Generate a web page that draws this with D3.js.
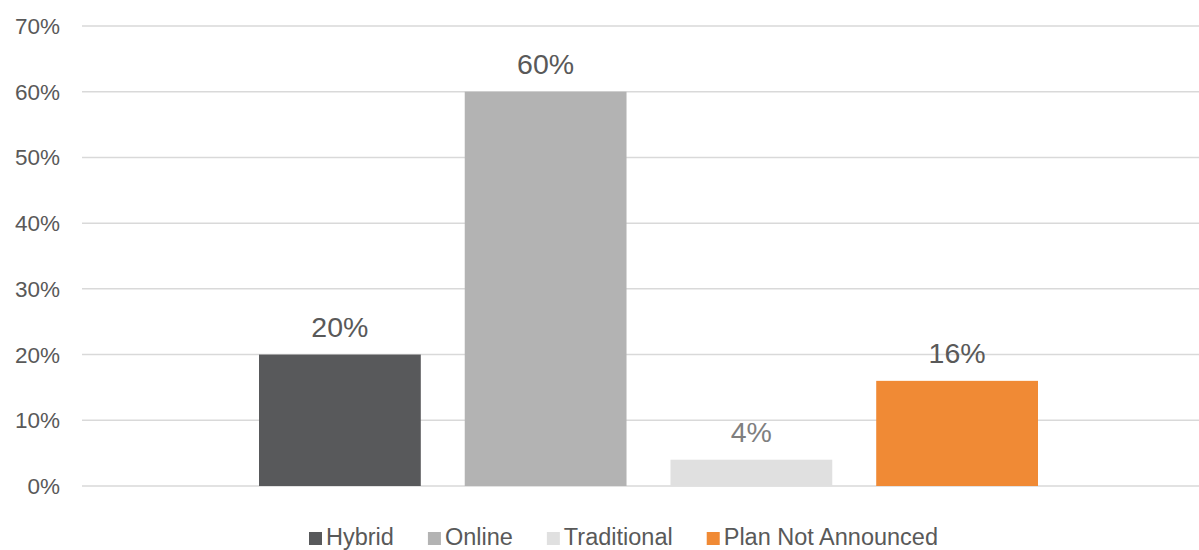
<!DOCTYPE html>
<html>
<head>
<meta charset="utf-8">
<script src="https://cdn.jsdelivr.net/npm/d3@7"></script>
<style>
  html, body { margin: 0; padding: 0; background: #fff; }
  svg { display: block; font-family: "Liberation Sans", Arial, sans-serif; }
</style>
</head>
<body>
<svg id="chart" width="1199" height="550"></svg>
<script>
const series = ["Hybrid", "Online", "Traditional", "Plan Not Announced"];
const values = [0.20, 0.60, 0.04, 0.16];
const colors = ["#58595b", "#b3b3b3", "#e0e0e0", "#f08a35"];
const labelColors = ["#595959", "#595959", "#7f7f7f", "#595959"];
const yTicks = [0, 0.1, 0.2, 0.3, 0.4, 0.5, 0.6, 0.7];

const svg = d3.select("#chart");
const plotLeft = 82, plotRight = 1215, plotTop = 26, plotBottom = 486;

const y = d3.scaleLinear().domain([0, 0.7]).range([plotBottom, plotTop]);
const x = d3.scaleBand().domain(series).range([259, 1038]).paddingInner(0.2136).paddingOuter(0);
const fmt = d3.format(".0%");

// gridlines
svg.append("g").selectAll("line").data(yTicks).join("line")
  .attr("x1", plotLeft).attr("x2", plotRight)
  .attr("y1", d => y(d)).attr("y2", d => y(d))
  .attr("stroke", "#d9d9d9").attr("stroke-width", 1.5);

// y labels
svg.append("g").selectAll("text").data(yTicks).join("text")
  .attr("x", 60).attr("y", d => y(d) + 8)
  .attr("text-anchor", "end")
  .attr("font-size", 22.5).attr("fill", "#595959")
  .text(d => fmt(d));

// bars
svg.append("g").selectAll("rect").data(series).join("rect")
  .attr("x", d => x(d)).attr("width", x.bandwidth())
  .attr("y", (d, i) => y(values[i]))
  .attr("height", (d, i) => plotBottom - y(values[i]))
  .attr("fill", (d, i) => colors[i]);

// data labels
svg.append("g").selectAll("text").data(series).join("text")
  .attr("x", d => x(d) + x.bandwidth() / 2)
  .attr("y", (d, i) => y(values[i]) - 18)
  .attr("text-anchor", "middle")
  .attr("font-size", 28.5).attr("fill", (d, i) => labelColors[i])
  .text((d, i) => fmt(values[i]));

// legend
const legend = svg.append("g");
const items = legend.selectAll("g").data(series).join("g");
items.append("rect").attr("width", 13).attr("height", 13)
  .attr("y", 532).attr("fill", (d, i) => colors[i]);
items.append("text").attr("x", 17).attr("y", 545)
  .attr("font-size", 23.5).attr("fill", "#595959").text(d => d);
const widths = [];
items.each(function() {
  const w = 17 + d3.select(this).select("text").node().getComputedTextLength();
  widths.push(w);
});
const gap = 34;
const total = d3.sum(widths) + gap * (widths.length - 1);
let start = 623.5 - total / 2;
items.attr("transform", (d, i) => {
  const t = `translate(${start},0)`;
  start += widths[i] + gap;
  return t;
});
</script>
</body>
</html>
